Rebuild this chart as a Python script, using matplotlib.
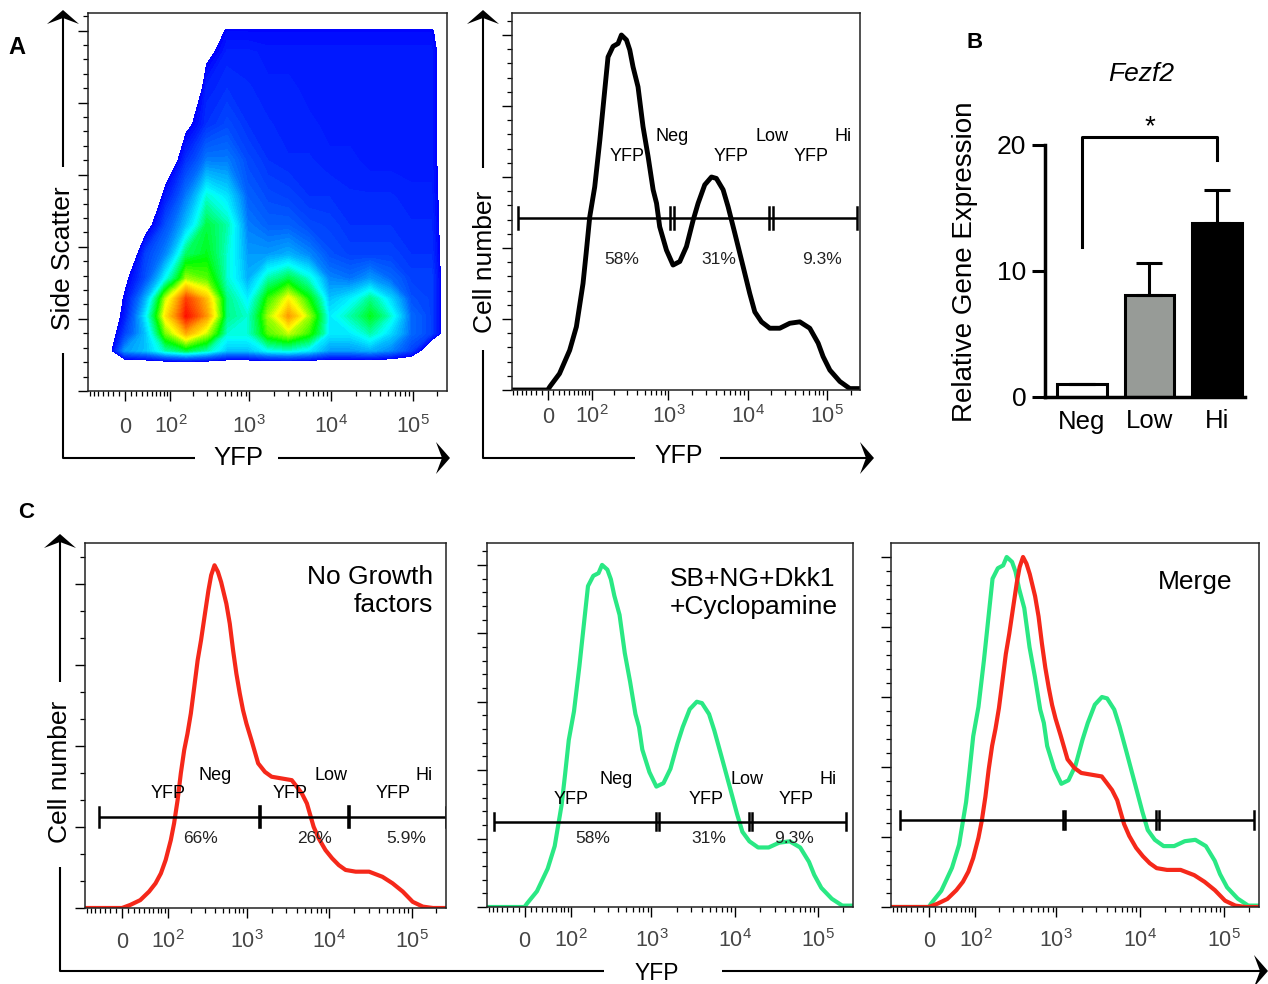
import numpy as np
import matplotlib
matplotlib.use('Agg')
import matplotlib.pyplot as plt
from matplotlib.colors import LinearSegmentedColormap
from matplotlib.patches import Polygon
from matplotlib.ticker import NullFormatter

plt.rcParams['font.family'] = ['Liberation Sans', 'DejaVu Sans']
plt.rcParams['mathtext.fontset'] = 'custom'
plt.rcParams['mathtext.rm'] = 'Liberation Sans'
plt.rcParams['mathtext.it'] = 'Liberation Sans:italic'
plt.rcParams['mathtext.bf'] = 'Liberation Sans:bold'

W, H = 1268, 984

# ---------------- data ----------------
# YFP histograms (x = YFP intensity, y = % of mode)
green_x = [-70, 0, 4, 21, 41, 56, 73, 82, 93, 110, 130, 152, 168, 196, 228, 252,
           293, 323, 356, 412, 477, 553, 641, 708, 776, 945, 1145, 1394, 1690,
           2052, 2373, 2878, 3500, 4035, 4910, 5680, 6890, 8770, 10640, 12330,
           14970, 19060, 25480, 34100, 45600, 60900, 77700, 89800, 109200,
           146000, 195000, 262144]
green_y = [0, 0, 1, 4.6, 11.2, 17.8, 30, 38.6, 48.8, 57.2, 70.4, 84.6, 93.8, 96.8,
           97.6, 100, 98.6, 95.8, 91, 85.4, 74.2, 65.8, 56.4, 52.6, 46, 39.4, 35.2,
           36.2, 40.4, 47.8, 52.6, 57.8, 60, 59.6, 56.4, 51.6, 44.2, 34.8, 27.2, 22,
           19.2, 17.4, 17.4, 18.8, 19.2, 17.4, 13.2, 9.4, 5.6, 2.4, 0.4, 0.4]

red_x = [-74, 0, 14, 32, 50, 65, 79, 93, 110, 122, 136, 150, 166, 183, 202, 223,
         246, 271, 299, 335, 362, 398, 438, 480, 556, 612, 672, 737, 811, 889,
         978, 1125, 1359, 1645, 1982, 2627, 3484, 4007, 4626, 5326, 5852, 6430,
         7415, 8955, 10790, 13030, 15740, 20890, 30400, 44200, 58700, 78000,
         103200, 137000, 182000, 262144]
red_y = [0, 0, 0.9, 2.3, 4.8, 7.2, 10.1, 14.0, 19.8, 24.7, 31.5, 39.3, 46.1, 50.9,
         56.8, 64.5, 72.3, 78.1, 84.9, 92.7, 97.1, 100, 98.1, 95.1, 88.8, 83.0,
         75.2, 68.4, 62.6, 57.7, 53.8, 49.0, 42.2, 39.7, 38.3, 37.8, 37.3, 35.4,
         33.4, 30.5, 27.1, 23.7, 20.3, 16.9, 14.5, 12.5, 11.1, 10.6, 10.6, 9.1,
         7.2, 4.8, 1.8, 0.4, 0, 0]

# gates: (height %, ends, separators)
gate_A2 = (48.5, [-59, 237000], [1063, 1170, 18670, 21000])
gate_C1 = (26.6, [-42, 259000], [1427, 17300])
gate_C2 = (24.9, [-57, 219000], [1128, 1233, 14700, 16100])
gate_C3 = (24.9, [-52, 228000], [1206, 1282, 15500, 16700])

gate_words = ['Neg', 'Low', 'Hi']
pct_A = ['58%', '31%', '9.3%']
pct_C1 = ['66%', '26%', '5.9%']

# panel A density (YFP x side scatter), relative density levels
dens_yfp = [-74, -37, 0, 37, 85, 163, 297, 532, 950, 1690, 3000, 5340, 9490,
            16900, 30000, 53400, 94900, 169000, 262144]
dens_ssc = [0, 18000, 28000, 40000, 52000, 64000, 78000, 95000, 115000, 135000,
            160000, 185000, 210000, 235000, 250000, 262144]
dens = np.array([
    [0] * 19,
    [0] * 19,
    [0, 0, .30, .34, .44, .50, .44, .34, .34, .40, .42, .38, .30, .30, .32, .28, .20, 0, 0],
    [0, 0, .20, .34, .60, .76, .64, .42, .42, .58, .64, .56, .38, .38, .44, .36, .25, .20, .05],
    [0, 0, .15, .38, .70, .93, .78, .46, .42, .62, .78, .62, .38, .44, .52, .42, .25, .20, .05],
    [0, 0, .13, .32, .64, .88, .74, .46, .38, .56, .68, .54, .34, .38, .46, .36, .22, .20, .05],
    [0, 0, .10, .22, .40, .62, .58, .42, .32, .44, .50, .42, .28, .26, .30, .25, .20, .20, .05],
    [0, 0, 0, .20, .28, .48, .52, .42, .30, .30, .32, .28, .22, .20, .20, .20, .18, .18, .05],
    [0, 0, 0, .08, .22, .34, .50, .44, .27, .24, .24, .21, .20, .18, .18, .18, .17, .17, .05],
    [0, 0, 0, 0, .15, .27, .42, .37, .24, .21, .20, .18, .18, .17, .17, .17, .16, .16, .05],
    [0, 0, 0, 0, .05, .18, .27, .27, .21, .18, .17, .17, .16, .16, .15, .15, .15, .15, .05],
    [0, 0, 0, 0, 0, .10, .18, .21, .18, .17, .16, .16, .15, .15, .15, .15, .15, .15, .05],
    [0, 0, 0, 0, 0, 0, .16, .18, .17, .16, .16, .15, .15, .15, .15, .15, .15, .15, .05],
    [0, 0, 0, 0, 0, 0, .10, .16, .16, .15, .15, .15, .15, .15, .15, .15, .15, .15, .05],
    [0, 0, 0, 0, 0, 0, .05, .13, .13, .13, .13, .13, .13, .13, .13, .13, .13, .13, .03],
    [0] * 19,
])

# panel B
b_groups = ['Neg', 'Low', 'Hi']
b_values = [1.0, 8.1, 13.8]
b_err = [0, 2.5, 2.6]
b_colors = ['white', '#979b97', 'black']
bracket_low = [11.9, 18.8]
bracket_top = 20.6

yfp_ticks = [0, 100, 1000, 10000, 100000]
yfp_labels = ['0', '$10^2$', '$10^3$', '$10^4$', '$10^5$']
yfp_minor = [-70, -60, -50, -40, -30, -20, -10, 10, 20, 30, 40, 50, 60, 70, 80, 90,
             200, 300, 400, 500, 600, 700, 800, 900,
             2000, 3000, 4000, 5000, 6000, 7000, 8000, 9000,
             20000, 30000, 40000, 50000, 60000, 70000, 80000, 90000, 200000]

RED = '#f5281a'
GREEN = '#2ae884'

fig = plt.figure(figsize=(W / 100, H / 100), dpi=100)

# overlay in pixel coordinates for FlowJo style axis arrows and labels
ov = fig.add_axes([0, 0, 1, 1])
ov.set_xlim(0, W)
ov.set_ylim(H, 0)
ov.axis('off')


def px_axes(x0, y0, x1, y1):
    return fig.add_axes([x0 / W, 1 - y1 / H, (x1 - x0) / W, (y1 - y0) / H])


def up_head(x, y):
    ov.add_patch(Polygon([(x, y), (x + 16, y + 14), (x, y + 8), (x - 16, y + 14)],
                         closed=True, color='black', lw=0))


def right_head(x, y):
    ov.add_patch(Polygon([(x, y), (x - 14, y - 16), (x - 8, y), (x - 14, y + 16)],
                         closed=True, color='black', lw=0))


def flow_axes(ax, ymax, step, minor, pad):
    ax.set_xscale('asinh', linear_width=60)
    ax.set_xlim(-74, 262144)
    ax.set_xticks(yfp_ticks)
    ax.set_xticklabels(yfp_labels, va='baseline', color='#454545', fontsize=15.5)
    ax.set_xticks(yfp_minor, minor=True)
    ax.xaxis.set_minor_formatter(NullFormatter())
    ax.set_ylim(0, ymax)
    ax.set_yticks(np.arange(0, ymax, step))
    ax.set_yticks(np.arange(0, ymax, minor), minor=True)
    ax.tick_params(labelleft=False)
    ax.tick_params(which='major', length=7, width=1, direction='out')
    ax.tick_params(which='minor', length=3.5, width=0.9, direction='out')
    ax.tick_params(axis='x', which='major', pad=pad)
    for s in ax.spines.values():
        s.set_linewidth(1.1)
        s.set_color('#222222')


def draw_gate(ax, gate, cap, lw=1.8, sep_lw=1.8):
    y, ends, seps = gate
    ax.plot(ends, [y, y], color='black', lw=lw, solid_capstyle='butt')
    for x in ends:
        ax.plot([x, x], [y - cap, y + cap], color='black', lw=lw)
    for x in seps:
        ax.plot([x, x], [y - cap, y + cap], color='black', lw=sep_lw)


def gate_text(ax, yfp_fx, word_fx, fy_yfp, fy_word, pct, pct_fx, fy_pct):
    for i in range(3):
        ax.text(yfp_fx[i], fy_yfp, 'YFP', transform=ax.transAxes, ha='center',
                va='center', fontsize=13)
        ax.text(word_fx[i], fy_word, gate_words[i], transform=ax.transAxes,
                ha='center', va='center', fontsize=13)
        ax.text(pct_fx[i], fy_pct, pct[i], transform=ax.transAxes, ha='center',
                va='center', fontsize=12.5, color='#222222')


# ---------------- panel A1: density plot ----------------
a1 = px_axes(88, 13, 447, 391)
flow_axes(a1, 262144, 50000, 10000, 23)
flow_cmap = LinearSegmentedColormap.from_list(
    'flow', ['#0000ff', '#0070ff', '#00ffff', '#00ff00', '#ffff00', '#ff8000', '#ff0000'])
flow_cmap.set_over('#ff0000')
a1.contourf(dens_yfp, dens_ssc, dens, levels=np.linspace(0.12, 0.95, 70),
            cmap=flow_cmap, extend='max')

# ---------------- panel A2: histogram ----------------
a2 = px_axes(512, 13, 860, 390)
flow_axes(a2, 106.2, 20, 4, 16.8)
a2.plot(green_x, green_y, color='black', lw=3.5)
draw_gate(a2, gate_A2, 3.1)
gate_text(a2, [0.33, 0.631, 0.861], [0.459, 0.746, 0.95], 0.619, 0.672,
          pct_A, [0.315, 0.593, 0.89], 0.345)

# ---------------- panel B: bars ----------------
b = px_axes(1045, 107, 1245, 397)
pos = np.arange(len(b_groups))
b.bar(pos, b_values, width=0.74, color=b_colors, edgecolor='black', linewidth=2.2)
b.errorbar(pos, b_values, yerr=[np.zeros(3), b_err], fmt='none', ecolor='black',
           elinewidth=2.2, capsize=9.7, capthick=2.2)
b.plot([pos[0], pos[0], pos[2], pos[2]],
       [bracket_low[0], bracket_top, bracket_top, bracket_low[1]],
       color='black', lw=2.2, clip_on=False)
b.text(1, 21.4, '*', ha='center', va='center', fontsize=20)
b.set_xlim(-0.548, 2.415)
b.set_ylim(0, 23)
b.set_yticks([0, 10, 20])
b.set_xticks(pos, b_groups)
b.spines['top'].set_visible(False)
b.spines['right'].set_visible(False)
b.spines['left'].set_bounds(0, 20)
b.spines['left'].set_linewidth(2.5)
b.spines['bottom'].set_linewidth(2.5)
b.tick_params(axis='y', length=9.5, width=2.2, pad=4, labelsize=19)
b.tick_params(axis='x', length=0, pad=9, labelsize=18.5)

# ---------------- panel C ----------------
c1 = px_axes(85, 543, 446, 908)
flow_axes(c1, 106.5, 100 / 4.23, 100 / 4.23 / 3, 21.6)
c1.plot(red_x, red_y, color=RED, lw=3)
draw_gate(c1, gate_C1, 3.0, sep_lw=2.6)
gate_text(c1, [0.231, 0.568, 0.854], [0.36, 0.681, 0.939], 0.314, 0.364,
          pct_C1, [0.321, 0.637, 0.889], 0.191)
c1.text(0.963, 0.868, 'No Growth\nfactors', transform=c1.transAxes, ha='right',
        va='center', multialignment='right', fontsize=19)

c2 = px_axes(487, 543, 853, 907)
flow_axes(c2, 106.4, 20, 4, 21.6)
c2.plot(green_x, green_y, color=GREEN, lw=3)
draw_gate(c2, gate_C2, 2.5)
gate_text(c2, [0.231, 0.6, 0.846], [0.354, 0.71, 0.933], 0.294, 0.349,
          pct_A, [0.29, 0.605, 0.84], 0.189)
c2.text(0.5, 0.863, 'SB+NG+Dkk1\n+Cyclopamine', transform=c2.transAxes, ha='left',
        va='center', fontsize=19)

c3 = px_axes(891, 543, 1259, 907)
flow_axes(c3, 104, 20, 4, 21.6)
c3.plot(green_x, green_y, color=GREEN, lw=3)
c3.plot(red_x, red_y, color=RED, lw=3)
draw_gate(c3, gate_C3, 2.5)
c3.text(0.826, 0.894, 'Merge', transform=c3.transAxes, ha='center', va='center',
        fontsize=19)

# ---------------- arrows / axis names ----------------
lk = dict(color='black', lw=1.5, solid_capstyle='butt')
# A1
ov.plot([63, 63], [167, 14], **lk)
ov.plot([63, 63, 195], [353, 458, 458], **lk)
ov.plot([278, 442], [458, 458], **lk)
up_head(63, 10)
right_head(450, 458)
ov.text(63, 258, 'Side Scatter', rotation=90, ha='center', va='center', fontsize=19)
ov.text(238, 465, 'YFP', ha='center', va='baseline', fontsize=18.5)
# A2
ov.plot([483, 483], [168, 14], **lk)
ov.plot([483, 483, 635], [350, 458, 458], **lk)
ov.plot([720, 866], [458, 458], **lk)
up_head(483, 10)
right_head(874, 458)
ov.text(485, 262, 'Cell number', rotation=90, ha='center', va='center', fontsize=19)
ov.text(679, 463, 'YFP', ha='center', va='baseline', fontsize=18)
# C
ov.plot([60, 60], [682, 538], **lk)
ov.plot([60, 60, 604], [867, 971, 971], **lk)
ov.plot([722, 1260], [971, 971], **lk)
up_head(60, 534)
right_head(1268, 971)
ov.text(60, 772, 'Cell number', rotation=90, ha='center', va='center', fontsize=19)
ov.text(657, 980, 'YFP', ha='center', va='baseline', fontsize=16.5)
# B labels
ov.text(965, 262, 'Relative Gene Expression', rotation=90, ha='center', va='center',
        fontsize=20)
ov.text(1141, 74, 'Fezf2', ha='center', va='center', fontsize=19, style='italic')
# panel letters
ov.text(17, 47, 'A', ha='center', va='center', fontsize=17, fontweight='bold')
ov.text(975, 43, 'B', ha='center', va='center', fontsize=16, fontweight='bold')
ov.text(26, 513, 'C', ha='center', va='center', fontsize=16, fontweight='bold')

fig.savefig('out.png', dpi=100)
